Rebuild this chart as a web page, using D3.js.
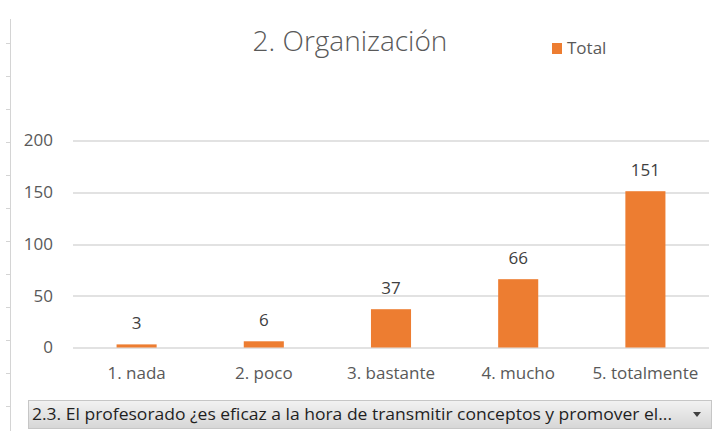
<!DOCTYPE html>
<html>
<head>
<meta charset="utf-8">
<script src="https://cdn.jsdelivr.net/npm/d3@7"></script>
<style>
  body { margin: 0; background: #fff; }
  svg { display: block; font-family: "Open Sans", "DejaVu Sans", sans-serif; }
</style>
</head>
<body>
<div id="chart-area"></div>
<script>
// data
const categories = ["1. nada", "2. poco", "3. bastante", "4. mucho", "5. totalmente"];
const totals = [3, 6, 37, 66, 151];
const yTicks = [0, 50, 100, 150, 200];
const chartTitle = "2. Organización";
const seriesName = "Total";
const filterText = "2.3. El profesorado ¿es eficaz a la hora de transmitir  conceptos y promover el...";

const W = 724, H = 431;
const margin = { left: 73, right: 15, top: 140.5, bottom: 83.5 };
const width = W - margin.left - margin.right;
const height = H - margin.top - margin.bottom;

const svg = d3.select("#chart-area")
  .append("svg")
    .attr("width", W)
    .attr("height", H);

// left frame edge with small marks
svg.append("line")
  .attr("x1", 10.5).attr("x2", 10.5)
  .attr("y1", 19).attr("y2", H)
  .attr("stroke", "#d4d4d4");
d3.range(43, H, 33).forEach(function(y){
  svg.append("line")
    .attr("x1", 6).attr("x2", 10)
    .attr("y1", y + 0.5).attr("y2", y + 0.5)
    .attr("stroke", "#d4d4d4");
});

const g = svg.append("g")
  .attr("transform", "translate(" + margin.left + "," + margin.top + ")");

const x = d3.scaleBand()
  .domain(categories)
  .range([0, width])
  .paddingInner(0.685)
  .paddingOuter(0.3425);

const y = d3.scaleLinear()
  .domain([0, 200])
  .range([height, 0]);

// gridlines
g.selectAll("line.grid")
  .data(yTicks)
  .enter().append("line")
    .attr("class", "grid")
    .attr("x1", 0).attr("x2", width)
    .attr("y1", d => Math.round(y(d)) + 0.5)
    .attr("y2", d => Math.round(y(d)) + 0.5)
    .attr("stroke", "#d9d9d9")
    .attr("stroke-width", 1.3);

// y axis
const yAxis = g.append("g")
  .call(d3.axisLeft(y).tickValues(yTicks).tickSize(0).tickPadding(20));
yAxis.select(".domain").remove();
yAxis.selectAll("text")
  .attr("fill", "#595959")
  .attr("font-size", "17px")
  .attr("font-family", "\"Open Sans\", sans-serif");

// x axis
const xAxis = g.append("g")
  .attr("transform", "translate(0," + height + ")")
  .call(d3.axisBottom(x).tickSize(0).tickPadding(19));
xAxis.select(".domain").remove();
xAxis.selectAll("text")
  .attr("fill", "#595959")
  .attr("font-size", "17px")
  .attr("font-family", "\"Open Sans\", sans-serif");

// bars
g.selectAll("rect.bar")
  .data(totals)
  .enter().append("rect")
    .attr("class", "bar")
    .attr("x", (d, i) => x(categories[i]))
    .attr("y", d => y(d))
    .attr("width", x.bandwidth())
    .attr("height", d => height - y(d))
    .attr("fill", "#ed7d31");

// value labels
g.selectAll("text.val")
  .data(totals)
  .enter().append("text")
    .attr("class", "val")
    .attr("x", (d, i) => x(categories[i]) + x.bandwidth() / 2)
    .attr("y", d => y(d) - 15)
    .attr("text-anchor", "middle")
    .attr("fill", "#404040")
    .attr("font-size", "17px")
    .text(d => d);

// title
svg.append("text")
  .attr("x", 350)
  .attr("y", 51)
  .attr("text-anchor", "middle")
  .attr("fill", "#595959")
  .attr("font-size", "28px")
  .attr("font-weight", 300)
  .text(chartTitle);

// legend
svg.append("rect")
  .attr("x", 552).attr("y", 43)
  .attr("width", 10).attr("height", 11)
  .attr("fill", "#ed7d31");
svg.append("text")
  .attr("x", 567).attr("y", 54)
  .attr("fill", "#595959")
  .attr("font-size", "17px")
  .text(seriesName);

// filter button at the bottom
const defs = svg.append("defs");
const grad = defs.append("linearGradient")
  .attr("id", "btn").attr("x1", 0).attr("x2", 0).attr("y1", 0).attr("y2", 1);
grad.append("stop").attr("offset", "0%").attr("stop-color", "#f2f2f2");
grad.append("stop").attr("offset", "100%").attr("stop-color", "#d6d6d6");

svg.append("rect")
  .attr("x", 28.5).attr("y", 400.5)
  .attr("width", 683).attr("height", 28)
  .attr("fill", "url(#btn)")
  .attr("stroke", "#c6c6c6");
svg.append("text")
  .attr("x", 32).attr("y", 420)
  .attr("fill", "#1f1f1f")
  .attr("font-size", "16px")
  .attr("textLength", 640)
  .attr("lengthAdjust", "spacingAndGlyphs")
  .text(filterText);
svg.append("path")
  .attr("d", "M693,412 L701,412 L697,417 Z")
  .attr("fill", "#404040");
</script>
</body>
</html>
